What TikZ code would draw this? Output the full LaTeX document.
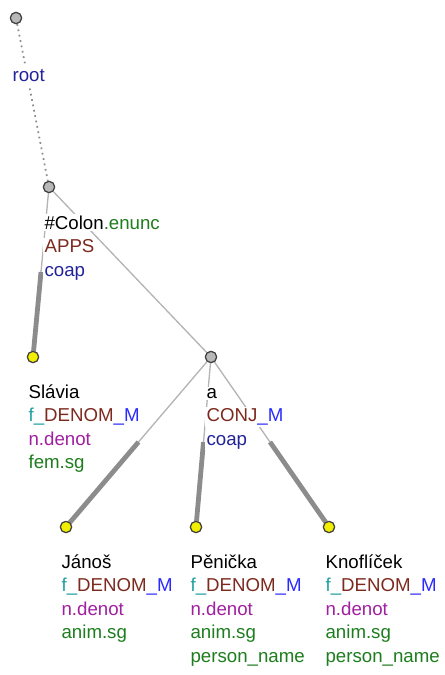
\documentclass[tikz,border=0pt]{standalone}
\usepackage{fontspec}
\setmainfont{Liberation Sans}
\usetikzlibrary{calc}
\definecolor{cnavy}{HTML}{22229A}
\definecolor{cgreen}{HTML}{1E7D1E}
\definecolor{cbrown}{HTML}{7D2A1E}
\definecolor{cteal}{HTML}{1EA0A0}
\definecolor{cblue}{HTML}{2A2AFF}
\definecolor{cpurple}{HTML}{A020A0}
\definecolor{cthin}{HTML}{B4B4B4}
\definecolor{cthick}{HTML}{8C8C8C}
\definecolor{cfill}{HTML}{B8B8B8}
\definecolor{cyel}{HTML}{F2EE00}
\tikzset{
  tnode/.style={circle,draw=black!75,line width=0.85pt,minimum size=8.4pt,inner sep=0pt,fill=cfill},
  leaf/.style={tnode,fill=cyel},
  thinedge/.style={draw=cthin,line width=1pt},
  thickedge/.style={draw=cthick,line width=3.6pt},
  rootedge/.style={draw=black!45,line width=1.3pt,dash pattern=on 1.3pt off 2.8pt},
  lab/.style={anchor=base west,fill=white,inner sep=1pt,font=\fontsize{14}{17}\selectfont},
  rootlab/.style={lab,inner ysep=4pt},
}
\newcommand{\fden}{{\color{cteal}f\_}{\color{cbrown}DENOM}{\color{cblue}\_M}}
\begin{document}
\begin{tikzpicture}[x=0.75pt,y=-0.75pt]
\useasboundingbox (0,0) rectangle (444,675);
% nodes
\node[tnode] (root) at (16,18) {};
\node[tnode] (colon) at (49,187) {};
\node[leaf] (slavia) at (33,357) {};
\node[tnode] (a) at (211,357) {};
\node[leaf] (janos) at (66,527) {};
\node[leaf] (penicka) at (196,527) {};
\node[leaf] (knoflicek) at (329,527) {};
% edges
\draw[rootedge] (root) -- (colon);
\draw[thinedge] (colon) -- (slavia);
\draw[thickedge] ($(colon.center)!0.5!(slavia.center)$) -- (slavia.center);
\draw[thinedge] (colon) -- (a);
\draw[thinedge] (a) -- (janos);
\draw[thickedge] ($(a.center)!0.5!(janos.center)$) -- (janos.center);
\draw[thinedge] (a) -- (penicka);
\draw[thickedge] ($(a.center)!0.5!(penicka.center)$) -- (penicka.center);
\draw[thinedge] (a) -- (knoflicek);
\draw[thickedge] ($(a.center)!0.5!(knoflicek.center)$) -- (knoflicek.center);
% labels
\node[rootlab,text=cnavy] (lroot) at (11,81) {root};
\node[lab] (lc1) at (43,229) {\color{black}\#Colon\color{cgreen}.enunc};
\node[lab,text=cbrown] (lc2) at (43,252.6) {APPS};
\node[lab,text=cnavy] (lc3) at (43,276.2) {coap};
\node[lab] (ls1) at (27,398) {Slávia};
\node[lab] (ls2) at (27,421.6) {\fden};
\node[lab,text=cpurple] (ls3) at (27,445.2) {n.denot};
\node[lab,text=cgreen] (ls4) at (27,468.8) {fem.sg};
\node[lab] (la1) at (205,398) {a};
\node[lab] (la2) at (205,421.6) {{\color{cbrown}CONJ}{\color{cblue}\_M}};
\node[lab,text=cnavy] (la3) at (205,445.2) {coap};
\node[lab] (lj1) at (60,568) {Jánoš};
\node[lab] (lj2) at (60,591.6) {\fden};
\node[lab,text=cpurple] (lj3) at (60,615.2) {n.denot};
\node[lab,text=cgreen] (lj4) at (60,638.8) {anim.sg};
\node[lab] (lp1) at (189,568) {Pěnička};
\node[lab] (lp2) at (189,591.6) {\fden};
\node[lab,text=cpurple] (lp3) at (189,615.2) {n.denot};
\node[lab,text=cgreen] (lp4) at (189,638.8) {anim.sg};
\node[lab,text=cgreen] (lp5) at (189,662.4) {person\_name};
\node[lab] (lk1) at (324,568) {Knoflíček};
\node[lab] (lk2) at (324,591.6) {\fden};
\node[lab,text=cpurple] (lk3) at (324,615.2) {n.denot};
\node[lab,text=cgreen] (lk4) at (324,638.8) {anim.sg};
\node[lab,text=cgreen] (lk5) at (324,662.4) {person\_name};
% redraw node circles on top
\node[tnode] at (root) {};
\node[tnode] at (colon) {};
\node[leaf] at (slavia) {};
\node[tnode] at (a) {};
\node[leaf] at (janos) {};
\node[leaf] at (penicka) {};
\node[leaf] at (knoflicek) {};
\end{tikzpicture}
\end{document}
